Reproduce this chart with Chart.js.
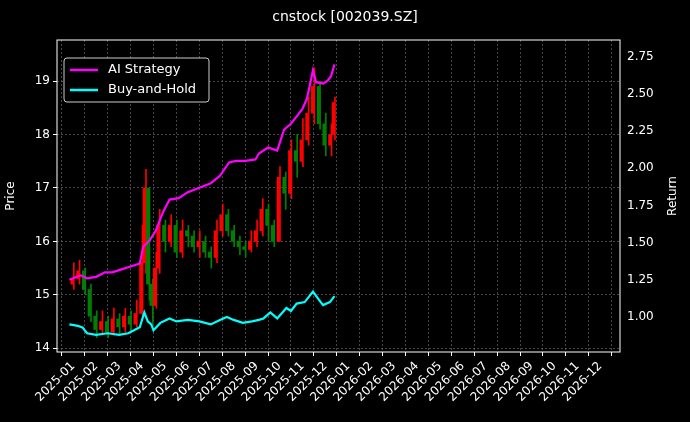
<!DOCTYPE html>
<html>
<head>
<meta charset="utf-8">
<script src="https://cdn.jsdelivr.net/npm/chart.js@4.4.1/dist/chart.umd.min.js"></script>
<style>
  html, body { margin: 0; padding: 0; background: #000; }
  #wrap { width: 690px; height: 422px; }
</style>
</head>
<body>
<div id="wrap"><canvas id="c" width="690" height="422"></canvas></div>
<script>
// months since 2025-01-01
const candleT = [0,0.25,0.5,0.75,1,1.25,1.5,1.75,2,2.25,2.5,2.75,3,3.15,3.3,3.45,3.6,3.75,4,4.25,4.5,4.75,5,5.25,5.5,5.75,6,6.25,6.5,6.75,7,7.25,7.5,7.75,8,8.25,8.5,8.75,9,9.25,9.5,9.75,10,10.25,10.5,10.75,11,11.25,11.4];
const opens  = [15.2,15.3,15.45,15.1,14.6,14.35,14.5,14.3,14.55,14.4,14.6,14.45,14.65,15.6,17.0,15.2,14.8,15.5,16.3,16.0,16.3,15.8,16.2,16.1,15.9,16.0,15.8,15.7,16.2,16.5,16.2,16.0,15.9,15.85,16.0,16.2,16.6,16.3,16.0,17.2,16.9,17.7,17.5,17.9,18.4,18.9,18.2,17.8,18.0];
const closes = [15.3,15.45,15.1,14.6,14.35,14.5,14.3,14.55,14.4,14.6,14.45,14.65,15.6,17.0,15.2,14.8,15.5,16.3,16.0,16.3,15.8,16.2,16.1,15.9,16.0,15.8,15.7,16.2,16.5,16.2,16.0,15.9,15.85,16.0,16.2,16.6,16.3,16.0,17.2,16.9,17.7,17.5,17.9,18.4,18.9,18.2,17.8,18.0,18.6];
const highs  = [15.6,15.65,15.5,15.2,14.7,14.7,14.6,14.75,14.65,14.75,14.7,14.9,16.3,17.35,17.0,15.3,15.8,16.6,16.4,16.5,16.4,16.4,16.3,16.2,16.2,16.1,15.9,16.4,16.7,16.6,16.3,16.1,16.0,16.2,16.4,16.8,16.7,16.4,17.4,17.3,17.9,18.0,18.3,18.7,19.25,19.0,18.4,18.2,18.7];
const lows   = [15.1,15.2,15.0,14.5,14.2,14.25,14.2,14.25,14.25,14.3,14.3,14.4,14.6,15.4,14.9,14.45,14.75,15.4,15.8,15.9,15.7,15.7,15.9,15.8,15.7,15.7,15.5,15.6,16.1,16.1,15.9,15.75,15.7,15.8,15.9,16.1,16.0,15.9,16.0,16.6,16.8,17.2,17.4,17.8,18.2,18.1,17.6,17.6,17.9];

const aiT = [-0.17,0.15,0.33,0.6,1.0,1.38,1.7,2.1,2.5,2.9,3.05,3.35,3.6,3.9,4.2,4.6,5.0,5.5,6.0,6.4,6.8,7.1,7.5,7.95,8.1,8.5,8.9,9.2,9.5,9.75,10.0,10.2,10.46,10.6,10.9,11.1,11.25,11.4];
const aiRet = [1.25,1.27,1.28,1.26,1.27,1.30,1.30,1.32,1.34,1.36,1.47,1.52,1.58,1.70,1.79,1.80,1.84,1.87,1.90,1.95,2.04,2.05,2.05,2.06,2.10,2.14,2.12,2.26,2.30,2.35,2.40,2.47,2.66,2.58,2.57,2.59,2.62,2.70];
const bhT = [-0.17,0.2,0.4,0.6,1.0,1.5,2.0,2.4,2.9,3.1,3.25,3.4,3.5,3.8,4.2,4.5,5.0,5.5,6.0,6.4,6.7,7.0,7.4,7.8,8.1,8.3,8.6,8.9,9.3,9.5,9.75,10.1,10.46,10.7,10.9,11.2,11.4];
const bhRet = [0.95,0.94,0.93,0.89,0.88,0.89,0.88,0.89,0.93,1.03,0.97,0.95,0.91,0.96,0.99,0.97,0.98,0.97,0.95,0.98,1.00,0.98,0.96,0.97,0.98,0.99,1.03,0.99,1.06,1.04,1.09,1.10,1.17,1.12,1.08,1.10,1.14];

const monthLabels = ['2025-01','2025-02','2025-03','2025-04','2025-05','2025-06','2025-07','2025-08','2025-09','2025-10','2025-11','2025-12',
  '2026-01','2026-02','2026-03','2026-04','2026-05','2026-06','2026-07','2026-08','2026-09','2026-10','2026-11','2026-12'];

const candleColors = closes.map((c, i) => c >= opens[i] ? '#ff0000' : '#008000');
const gridC = 'rgba(128,128,128,0.55)';
const font = { family: 'DejaVu Sans', size: 12 };

const overlay = {
  id: 'overlay',
  afterDraw(chart) {
    const ctx = chart.ctx, a = chart.chartArea;
    ctx.save();
    ctx.strokeStyle = '#fff'; ctx.lineWidth = 1;
    ctx.strokeRect(a.left, a.top, a.right - a.left, a.bottom - a.top);
    ctx.fillStyle = '#fff'; ctx.font = '14px "DejaVu Sans"';
    ctx.textAlign = 'center'; ctx.textBaseline = 'middle';
    ctx.fillText('cnstock [002039.SZ]', 345, 17);
    ctx.font = '12px "DejaVu Sans"';
    ctx.translate(673, (a.top + a.bottom) / 2);
    ctx.rotate(-Math.PI / 2);
    ctx.fillText('Return', 0, 0);
    ctx.setTransform(1, 0, 0, 1, 0, 0);
    ctx.scale(chart.currentDevicePixelRatio, chart.currentDevicePixelRatio);
    // legend
    const lx = a.left + 7, ly = a.top + 18;
    ctx.fillStyle = '#000'; ctx.strokeStyle = '#ccc';
    ctx.beginPath(); ctx.roundRect(lx, ly, 145, 44, 3); ctx.fill(); ctx.stroke();
    ctx.font = '13px "DejaVu Sans"'; ctx.textAlign = 'left';
    [['AI Strategy', '#ff00ff', 12], ['Buy-and-Hold', '#00ffff', 32]].forEach(([t, col, dy]) => {
      ctx.strokeStyle = col; ctx.lineWidth = 2.5;
      ctx.beginPath(); ctx.moveTo(lx + 6, ly + dy); ctx.lineTo(lx + 34, ly + dy); ctx.stroke();
      ctx.fillStyle = '#fff'; ctx.fillText(t, lx + 44, ly + dy);
    });
    ctx.restore();
  }
};

new Chart(document.getElementById('c'), {
  data: {
    datasets: [
      { type: 'bar', data: candleT.map((t, i) => ({ x: t, y: [lows[i], highs[i]] })),
        backgroundColor: candleColors, barThickness: 1, yAxisID: 'y', order: 3 },
      { type: 'bar', data: candleT.map((t, i) => ({ x: t, y: [opens[i], closes[i]] })),
        backgroundColor: candleColors, barThickness: 2.5, yAxisID: 'y', order: 2 },
      { type: 'line', label: 'AI Strategy', data: aiT.map((t, i) => ({ x: t, y: aiRet[i] })),
        borderColor: '#ff00ff', borderWidth: 2.2, pointRadius: 0, yAxisID: 'y2', order: 1 },
      { type: 'line', label: 'Buy-and-Hold', data: bhT.map((t, i) => ({ x: t, y: bhRet[i] })),
        borderColor: '#00ffff', borderWidth: 2.2, pointRadius: 0, yAxisID: 'y2', order: 1 }
    ]
  },
  options: {
    responsive: false, animation: false,
    layout: { padding: { top: 40, left: 0, right: 0 } },
    plugins: { legend: { display: false }, tooltip: { enabled: false } },
    scales: {
      x: {
        type: 'linear', min: -0.2, max: 23.35,
        afterFit: s => { s.height = 70; },
        afterBuildTicks: s => { s.ticks = monthLabels.map((_, i) => ({ value: i })); },
        ticks: { color: '#fff', font, minRotation: 45, maxRotation: 45, autoSkip: false,
          callback: v => monthLabels[v] },
        grid: { color: gridC, tickColor: '#fff', tickLength: 4, drawTicks: true },
        border: { display: false, dash: [2, 2] }
      },
      y: {
        position: 'left', min: 13.93, max: 19.77,
        afterFit: s => { s.width = 57; },
        afterBuildTicks: s => { s.ticks = [14, 15, 16, 17, 18, 19].map(v => ({ value: v })); },
        ticks: { color: '#fff', font },
        title: { display: true, text: 'Price', color: '#fff', font },
        grid: { color: gridC, tickColor: '#fff', tickLength: 4 },
        border: { display: false, dash: [2, 2] }
      },
      y2: {
        position: 'right', min: 0.764, max: 2.864,
        afterFit: s => { s.width = 70; },
        afterBuildTicks: s => { s.ticks = [1, 1.25, 1.5, 1.75, 2, 2.25, 2.5, 2.75].map(v => ({ value: v })); },
        ticks: { color: '#fff', font, callback: v => v.toFixed(2) },
        grid: { display: false, tickColor: '#fff', tickLength: 4 },
        border: { display: false }
      }
    }
  },
  plugins: [overlay]
});
</script>
</body>
</html>
